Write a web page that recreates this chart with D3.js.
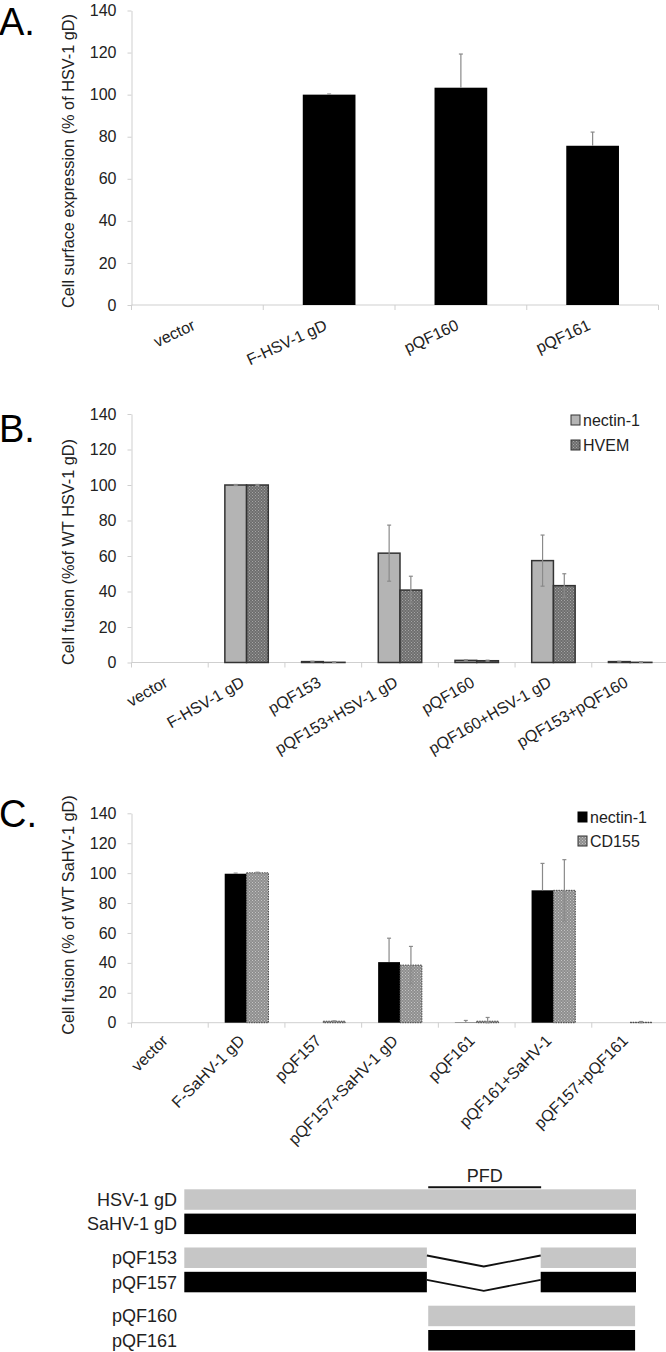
<!DOCTYPE html>
<html>
<head>
<meta charset="utf-8">
<script src="https://cdn.jsdelivr.net/npm/d3@7"></script>
<style>
  html, body { margin: 0; padding: 0; background: #fff; }
  svg { display: block; font-family: "Liberation Sans", Arial, sans-serif; }
</style>
</head>
<body>
<svg id="chart" width="666" height="1352"></svg>
<script>
// ---------------- DATA ----------------
const yTicks = [0, 20, 40, 60, 80, 100, 120, 140];

// Panel A
const catsA = ["vector", "F-HSV-1 gD", "pQF160", "pQF161"];
const valA = [0, 100, 103.3, 75.7];
const errA = [0, 0.3, 16, 6.5];

// Panel B
const catsB = ["vector", "F-HSV-1 gD", "pQF153", "pQF153+HSV-1 gD", "pQF160", "pQF160+HSV-1 gD", "pQF153+pQF160"];
const seriesB = ["nectin-1", "HVEM"];
const nectinB = [0, 100, 0.5, 61.6, 1.2, 57.4, 0.5];
const nectinErrB = [0, 0.3, 0.2, 15.8, 0.3, 14.4, 0.2];
const hvemB = [0, 100, 0.1, 40.8, 1.0, 43.3, 0.1];
const hvemErrB = [0, 0.3, 0.3, 7.8, 0.3, 6.7, 0.4];

// Panel C
const catsC = ["vector", "F-SaHV-1 gD", "pQF157", "pQF157+SaHV-1 gD", "pQF161", "pQF161+SaHV-1", "pQF157+pQF161"];
const seriesC = ["nectin-1", "CD155"];
const nectinC = [0, 99.6, 0, 40.5, 0.2, 88.5, 0];
const nectinErrC = [0, 0.4, 0, 16, 1.3, 18, 0];
const cd155C = [0, 100.2, 1.0, 38.5, 1.0, 88.5, 0.3];
const cd155ErrC = [0, 0.4, 0.2, 12.5, 2.5, 20.5, 0.5];

// Domain diagram (relative length units 0-100)
const pfdRegion = [54, 79];
const constructNames = ["HSV-1 gD", "SaHV-1 gD", "pQF153", "pQF157", "pQF160", "pQF161"];
const constructGroup = [0, 0, 1, 1, 2, 2];
const constructColor = ["gray", "black", "gray", "black", "gray", "black"];
const constructSegments = [
  [[0, 100]],
  [[0, 100]],
  [[0, 53.7], [78.9, 100]],
  [[0, 53.7], [78.9, 100]],
  [[54, 99.8]],
  [[54, 99.8]]
];

// ---------------- DRAW ----------------
const svg = d3.select("#chart");
const defs = svg.append("defs");

function checker(id, base, dot) {
  const p = defs.append("pattern").attr("id", id).attr("width", 3).attr("height", 3)
    .attr("patternUnits", "userSpaceOnUse");
  p.append("rect").attr("width", 3).attr("height", 3).attr("fill", base);
  p.append("rect").attr("width", 1).attr("height", 1).attr("fill", dot);
  p.append("rect").attr("x", 1.5).attr("y", 1.5).attr("width", 1).attr("height", 1).attr("fill", dot);
}
checker("hvemPat", "#6e6e6e", "#a5a5a5");
checker("cdPat", "#8e8e8e", "#c4c4c4");

const AXIS_COL = "#cfcfcf";
const TEXT_COL = "#222";

function drawPanel(cfg) {
  const g = svg.append("g");
  const y = d3.scaleLinear().domain([0, 140]).range([cfg.y0, cfg.y140]);
  const x = d3.scaleBand().domain(cfg.cats).range([cfg.left, cfg.right]).padding(0);

  // y axis
  const ya = g.append("g").attr("transform", `translate(${cfg.left},0)`)
    .call(d3.axisLeft(y).tickValues(yTicks).tickSize(4).tickPadding(11).tickSizeOuter(0));
  ya.select(".domain").attr("stroke", AXIS_COL);
  ya.selectAll(".tick line").attr("stroke", AXIS_COL);
  ya.selectAll(".tick text").attr("fill", TEXT_COL).style("font-size", "16px")
    .style("font-family", "'Liberation Sans', Arial, sans-serif");

  // x axis line + category boundary ticks
  g.append("line").attr("x1", cfg.left).attr("x2", cfg.right)
    .attr("y1", y(0)).attr("y2", y(0)).attr("stroke", AXIS_COL);
  const bounds = cfg.cats.map(c => x(c)).concat([x.range()[1]]);
  g.selectAll(".xt").data(bounds).join("line")
    .attr("x1", d => d).attr("x2", d => d)
    .attr("y1", y(0)).attr("y2", y(0) + 5).attr("stroke", AXIS_COL);

  // rotated category labels
  g.selectAll("text.xl").data(cfg.cats).join("text").attr("class", "xl")
    .attr("text-anchor", "end")
    .attr("transform", d => `translate(${x(d) + x.bandwidth() / 2 - 1},${y(0) + cfg.labOff}) rotate(${cfg.angle})`)
    .attr("fill", TEXT_COL).style("font-size", "16px").text(d => d);

  // y title
  g.append("text").attr("text-anchor", "middle")
    .attr("transform", `translate(${cfg.titleX},${cfg.titleY}) rotate(-90)`)
    .attr("fill", TEXT_COL).style("font-size", "16.3px").text(cfg.title);

  // panel letter
  g.append("text").attr("x", -1).attr("y", cfg.letterY).attr("fill", "#000")
    .style("font-size", "38px").text(cfg.letter);

  // bars
  const inner = d3.scaleBand().domain(cfg.series.map(s => s.name))
    .range([0, x.bandwidth() * cfg.groupFrac]).padding(0);
  const off = (x.bandwidth() - x.bandwidth() * cfg.groupFrac) / 2;

  cfg.series.forEach(s => {
    const data = cfg.cats.map((c, i) => ({ c, v: s.values[i], e: s.errs[i] }));
    const bx = d => x(d.c) + off + inner(s.name);
    g.selectAll(null).data(data.filter(d => d.v > 0)).join("rect")
      .attr("x", bx)
      .attr("width", inner.bandwidth())
      .attr("y", d => y(d.v))
      .attr("height", d => y(0) - y(d.v))
      .attr("fill", s.fill)
      .attr("stroke", s.stroke || "none")
      .attr("stroke-width", s.strokeWidth || 0)
      .attr("stroke-dasharray", s.dash || null);
    const eg = g.append("g");
    data.forEach(d => {
      if (d.e <= 0) return;
      const cx = bx(d) + inner.bandwidth() / 2;
      const lo = s.plusOnly ? d.v : Math.max(0, d.v - d.e);
      const hi = d.v + d.e;
      eg.append("line").attr("x1", cx).attr("x2", cx).attr("y1", y(lo)).attr("y2", y(hi))
        .attr("stroke", "#8a8a8a").attr("stroke-width", 1.2);
      eg.append("line").attr("x1", cx - 2).attr("x2", cx + 2).attr("y1", y(hi)).attr("y2", y(hi))
        .attr("stroke", "#8a8a8a").attr("stroke-width", 1.2);
      if (!s.plusOnly) {
        eg.append("line").attr("x1", cx - 2).attr("x2", cx + 2).attr("y1", y(lo)).attr("y2", y(lo))
          .attr("stroke", "#8a8a8a").attr("stroke-width", 1.2);
      }
    });
  });

  // legend
  if (cfg.legend) {
    const lg = g.append("g");
    cfg.series.forEach((s, i) => {
      const ly = cfg.legend.y + i * cfg.legend.step;
      lg.append("rect").attr("x", cfg.legend.x).attr("y", ly - 5).attr("width", 9).attr("height", 10)
        .attr("fill", s.fill).attr("stroke", s.legendStroke || "#333").attr("stroke-width", 1);
      lg.append("text").attr("x", cfg.legend.x + 12).attr("y", ly + 6)
        .attr("fill", TEXT_COL).style("font-size", "16px").text(s.name);
    });
  }
}

// Panel A
drawPanel({
  letter: "A.", letterY: 35,
  cats: catsA, left: 131.5, right: 658.5, y0: 305, y140: 10.5,
  angle: -25, labOff: 24, groupFrac: 0.4,
  title: "Cell surface expression (% of HSV-1 gD)", titleX: 74, titleY: 161,
  series: [{ name: "A", values: valA, errs: errA, fill: "#000", plusOnly: true }]
});

// Panel B
drawPanel({
  letter: "B.", letterY: 442,
  cats: catsB, left: 131.5, right: 668.5, y0: 662.5, y140: 414,
  angle: -30, labOff: 23, groupFrac: 0.566,
  title: "Cell fusion (%of WT HSV-1 gD)", titleX: 74, titleY: 552,
  legend: { x: 571, y: 420, step: 25 },
  series: [
    { name: seriesB[0], values: nectinB, errs: nectinErrB, fill: "#b4b4b4", stroke: "#333", strokeWidth: 1.5 },
    { name: seriesB[1], values: hvemB, errs: hvemErrB, fill: "url(#hvemPat)", stroke: "#333", strokeWidth: 1.5 }
  ]
});

// Panel C
drawPanel({
  letter: "C.", letterY: 827,
  cats: catsC, left: 131.5, right: 668.5, y0: 1022.7, y140: 813.3,
  angle: -45, labOff: 19, groupFrac: 0.57,
  title: "Cell fusion (% of WT SaHV-1 gD)", titleX: 74, titleY: 915,
  legend: { x: 578, y: 817, step: 24 },
  series: [
    { name: seriesC[0], values: nectinC, errs: nectinErrC, fill: "#000", plusOnly: true, legendStroke: "#000" },
    { name: seriesC[1], values: cd155C, errs: cd155ErrC, fill: "url(#cdPat)", stroke: "#444", strokeWidth: 1, dash: "1.5,1" }
  ]
});

// ---------------- Domain diagram ----------------
const dg = svg.append("g");
const xd = d3.scaleLinear().domain([0, 100]).range([184.3, 636]);
const groupTop = d3.scaleLinear().domain([0, 2]).range([1189.3, 1305.7]);
const rowStep = 24.3, rowH = 20.5;
const colorMap = { gray: "#c6c6c6", black: "#000" };

dg.append("line").attr("x1", xd(pfdRegion[0])).attr("x2", xd(pfdRegion[1]))
  .attr("y1", 1187.3).attr("y2", 1187.3).attr("stroke", "#111").attr("stroke-width", 2);
dg.append("text").attr("x", (xd(pfdRegion[0]) + xd(pfdRegion[1])) / 2).attr("y", 1181.5)
  .attr("text-anchor", "middle").attr("fill", TEXT_COL).style("font-size", "18px").text("PFD");

let prevGroup = -1, idxInGroup = 0;
constructNames.forEach((name, i) => {
  const grp = constructGroup[i];
  idxInGroup = grp === prevGroup ? idxInGroup + 1 : 0;
  prevGroup = grp;
  const top = groupTop(grp) + idxInGroup * rowStep;
  const segs = constructSegments[i];
  segs.forEach(s => {
    dg.append("rect").attr("x", xd(s[0])).attr("width", xd(s[1]) - xd(s[0]))
      .attr("y", top).attr("height", rowH).attr("fill", colorMap[constructColor[i]]);
  });
  if (segs.length > 1) {
    const a = xd(segs[0][1]), b = xd(segs[1][0]);
    dg.append("path")
      .attr("d", d3.line()([[a, top + 8], [(a + b) / 2, top + 19], [b, top + 8]]))
      .attr("fill", "none").attr("stroke", "#111").attr("stroke-width", 1.8);
  }
  dg.append("text").attr("x", 177).attr("y", top + rowH / 2 + 6.5)
    .attr("text-anchor", "end").attr("fill", TEXT_COL).style("font-size", "18px").text(name);
});
</script>
</body>
</html>
